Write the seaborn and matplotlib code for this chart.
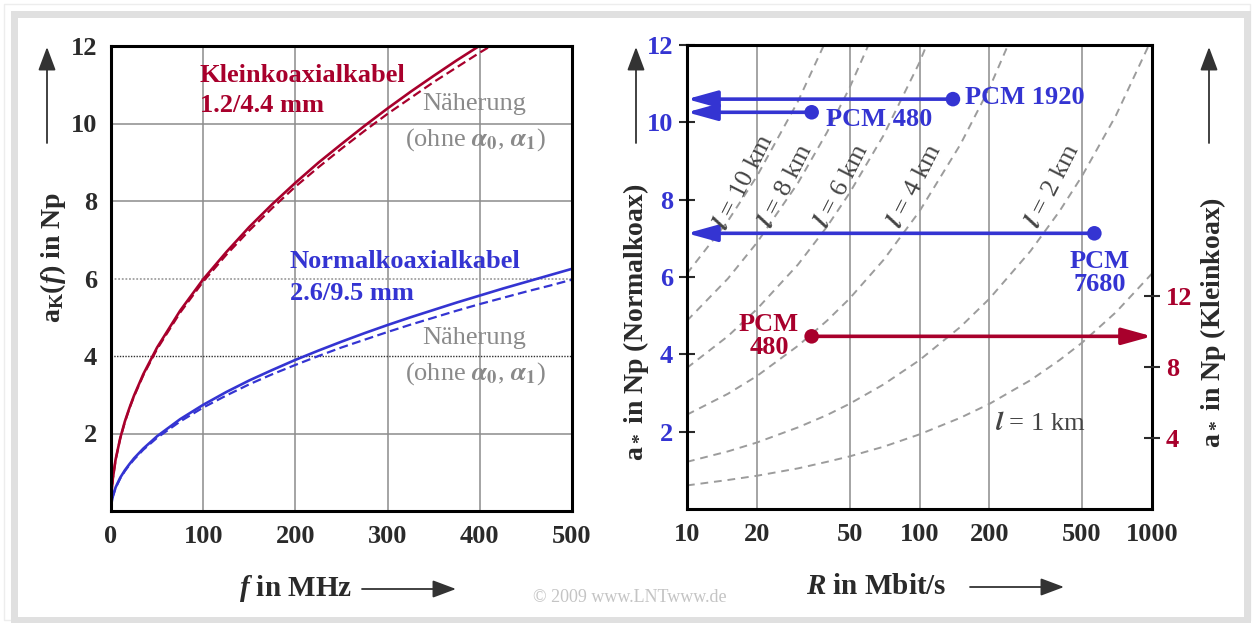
import matplotlib
matplotlib.use("Agg")
import matplotlib.pyplot as plt
from matplotlib.patches import Rectangle
import seaborn as sns

sns.set_theme(style="white")
plt.rcParams["font.family"] = ["Liberation Serif", "DejaVu Serif"]
plt.rcParams["font.weight"] = "bold"
plt.rcParams["mathtext.fontset"] = "custom"
plt.rcParams["mathtext.rm"] = "Liberation Serif:bold"
plt.rcParams["mathtext.it"] = "Liberation Serif:bold:italic"
plt.rcParams["mathtext.bf"] = "Liberation Serif:bold"

# ---------------------------------------------------------------------------
# data
# ---------------------------------------------------------------------------
f_mhz = [0, 0.1, 0.5, 1, 2, 5, 10, 15, 20, 25, 35, 50, 75, 100, 125, 150, 175, 200,
         225, 250, 275, 300, 325, 350, 375, 400, 425, 450, 475, 500]
klein_exact = [0.00, 0.19, 0.42, 0.59, 0.84, 1.33, 1.88, 2.31, 2.66, 2.98, 3.53, 4.22,
               5.17, 5.98, 6.68, 7.33, 7.92, 8.47, 8.99, 9.47, 9.94, 10.39, 10.82, 11.23,
               11.63, 12.01, 12.38, 12.75, 13.10, 13.44]
klein_approx = [0.00, 0.19, 0.42, 0.59, 0.84, 1.32, 1.87, 2.29, 2.65, 2.96, 3.50, 4.18,
                5.12, 5.92, 6.61, 7.24, 7.82, 8.37, 8.87, 9.35, 9.81, 10.25, 10.66, 11.07,
                11.45, 11.83, 12.19, 12.55, 12.89, 13.23]
normal_exact = [0.00, 0.09, 0.19, 0.27, 0.38, 0.61, 0.86, 1.05, 1.21, 1.36, 1.61, 1.93,
                2.37, 2.74, 3.07, 3.37, 3.64, 3.90, 4.14, 4.37, 4.59, 4.80, 5.00, 5.19,
                5.38, 5.56, 5.74, 5.91, 6.08, 6.25]
normal_approx = [0.00, 0.08, 0.19, 0.27, 0.38, 0.60, 0.84, 1.03, 1.19, 1.33, 1.58, 1.89,
                 2.31, 2.67, 2.98, 3.27, 3.53, 3.77, 4.00, 4.22, 4.42, 4.62, 4.81, 4.99,
                 5.17, 5.34, 5.50, 5.66, 5.81, 5.97]

rate = [10, 15, 20, 30, 40, 50, 70, 100, 150, 200, 300, 400, 500, 700, 1000]
len_1km = [0.61, 0.75, 0.86, 1.05, 1.22, 1.36, 1.61, 1.93, 2.36, 2.72, 3.33, 3.85, 4.30,
           5.09, 6.09]
len_2km = [1.22, 1.49, 1.72, 2.11, 2.43, 2.72, 3.22, 3.85, 4.71, 5.44, 6.67, 7.70, 8.61,
           10.18, 12.17]
len_4km = [2.44, 2.98, 3.44, 4.22, 4.87, 5.44, 6.44, 7.70, 9.43, 10.89, 13.34, 15.40,
           17.22, 20.37, 24.35]
len_6km = [3.65, 4.47, 5.17, 6.32, 7.30, 8.17, 9.66, 11.55, 14.14, 16.33, 20.00, 23.10,
           25.82, 30.55, 36.52]
len_8km = [4.87, 5.96, 6.89, 8.43, 9.74, 10.89, 12.88, 15.40, 18.86, 21.78, 26.67, 30.80,
           34.43, 40.73, 48.70]
len_10km = [6.09, 7.45, 8.61, 10.54, 12.17, 13.61, 16.10, 19.25, 23.57, 27.22, 33.34,
            38.50, 43.04, 50.92, 60.87]

pcm_normal_rate = [34.368, 139.264, 564.992]
pcm_normal_att = [10.26, 10.60, 7.13]
pcm_klein_rate = [34.368]
pcm_klein_att = [9.75]

RED = "#a8002c"
BLUE = "#3434d2"
GREY_TXT = "#8a8a8a"
GRID = "#8c8c8c"
DASH = "#9c9c9c"
TICK = "#2a2a2a"

W, H = 1255, 623


def box(l, t, r, b):
    return [l / W, 1 - b / H, (r - l) / W, (b - t) / H]


def fx(x):
    return x / W


def fy(y):
    return 1 - y / H


def style_axes(ax):
    for s in ax.spines.values():
        s.set_linewidth(2.2)
        s.set_color("black")
        s.set_zorder(5)


fig = plt.figure(figsize=(W / 100, H / 100), dpi=100)
fig.patch.set_facecolor("white")

# frame round the whole picture
fig.add_artist(Rectangle((fx(4), fy(620)), fx(1250 - 4), (620 - 4) / H, transform=fig.transFigure,
                         fill=False, edgecolor="#ededed", lw=1.0))
fig.add_artist(Rectangle((fx(13.5), fy(619.5)), fx(1247 - 13.5), (619.5 - 13.5) / H,
                         transform=fig.transFigure, fill=False, edgecolor="#e0e0e0", lw=5))

# ---------------------------------------------------------------------------
# left panel: attenuation vs frequency
# ---------------------------------------------------------------------------
axL = fig.add_axes(box(111, 46, 572, 511))
style_axes(axL)
for xv in [100, 200, 300, 400]:
    axL.axvline(xv, color=GRID, lw=1.1, zorder=1)
for yv in [2, 8, 10]:
    axL.axhline(yv, color=GRID, lw=1.1, zorder=1)
axL.axhline(6, color="#a0a0a0", lw=1.3, ls=(0, (1, 1)), zorder=1)
axL.axhline(4, color="#303030", lw=1.0, ls=(0, (1, 1)), zorder=1)

sns.lineplot(x=f_mhz, y=klein_exact, ax=axL, color=RED, lw=1.9, zorder=3)
sns.lineplot(x=f_mhz, y=klein_approx, ax=axL, color=RED, lw=1.6, ls=(0, (4, 2)), zorder=3)
sns.lineplot(x=f_mhz, y=normal_exact, ax=axL, color=BLUE, lw=1.9, zorder=3)
sns.lineplot(x=f_mhz, y=normal_approx, ax=axL, color=BLUE, lw=1.6, ls=(0, (4, 2)), zorder=3)

axL.set_xlim(0, 500)
axL.set_ylim(0, 12)
axL.set_xticks(range(0, 501, 100))
axL.set_yticks(range(2, 13, 2))
axL.tick_params(direction="inout", length=12, width=1.5, labelsize=19, colors=TICK, pad=4)
axL.set_xlabel("")
axL.set_ylabel("")

# ---------------------------------------------------------------------------
# right panel: attenuation vs bit rate
# ---------------------------------------------------------------------------
axR = fig.add_axes(box(687, 45, 1152, 509))
style_axes(axR)
axR.set_xscale("log")
for xv in [20, 50, 100, 200, 500]:
    axR.axvline(xv, color=GRID, lw=1.1, zorder=1)
for vals in [len_1km, len_2km, len_4km, len_6km, len_8km, len_10km]:
    sns.lineplot(x=rate, y=vals, ax=axR, color=DASH, lw=1.4, ls=(0, (4, 3)), zorder=2)

axR.set_xlim(10, 1000)
axR.set_ylim(0, 12)
axR.set_xticks([10, 20, 50, 100, 200, 500, 1000])
axR.set_xticklabels(["10", "20", "50", "100", "200", "500", "1000"])
axR.minorticks_off()
axR.set_yticks(range(2, 13, 2))
axR.tick_params(direction="inout", length=12, width=1.5, labelsize=19, colors=TICK, pad=4)
axR.tick_params(axis="y", labelcolor=BLUE)
axR.set_xlabel("")
axR.set_ylabel("")

arrow_kw = dict(arrowstyle="-|>,head_length=1.3,head_width=0.36", lw=2.6,
                shrinkA=0, shrinkB=0, mutation_scale=14)
for r, a in zip(pcm_normal_rate, pcm_normal_att):
    axR.annotate("", xy=(10, a), xytext=(r, a),
                 arrowprops=dict(color=BLUE, **arrow_kw), zorder=4)
sns.scatterplot(x=pcm_normal_rate, y=pcm_normal_att, ax=axR, color=BLUE, s=110,
                edgecolor="none", zorder=6)

ax2 = axR.twinx()
ax2.set_ylim(0, 26.2)
ax2.set_yticks([4, 8, 12])
ax2.tick_params(direction="inout", length=12, width=1.5, labelsize=19, colors=TICK,
                labelcolor=RED, pad=4)
for s in ax2.spines.values():
    s.set_visible(False)
for r, a in zip(pcm_klein_rate, pcm_klein_att):
    ax2.annotate("", xy=(1000, a), xytext=(r, a),
                 arrowprops=dict(color=RED, **arrow_kw), zorder=4)
sns.scatterplot(x=pcm_klein_rate, y=pcm_klein_att, ax=ax2, color=RED, s=110,
                edgecolor="none", zorder=6)
ax2.set_ylabel("")

# ---------------------------------------------------------------------------
# texts
# ---------------------------------------------------------------------------
def put(x, y, s, **kw):
    kw.setdefault("fontsize", 19)
    kw.setdefault("va", "center")
    fig.text(fx(x), fy(y), s, **kw)


# left panel annotations
put(200, 75, "Kleinkoaxialkabel", color=RED)
put(200, 106, "1.2/4.4 mm", color=RED)
put(290, 261, "Normalkoaxialkabel", color=BLUE)
put(290, 294, "2.6/9.5 mm", color=BLUE)
for y0 in (104, 338):
    put(422, y0, "Näherung", color=GREY_TXT, fontweight="normal")
    put(405, y0 + 36, r"(ohne $\alpha_0$, $\alpha_1$)", color=GREY_TXT,
        fontweight="normal", math_fontfamily="stix")

# right panel annotations
put(965, 98, "PCM 1920", color=BLUE)
put(826, 120, "PCM 480", color=BLUE)
put(1100, 273, "PCM\n7680", color=BLUE, ha="center", linespacing=0.95)
put(769, 336, "PCM\n480", color=RED, ha="center", linespacing=0.95)
put(995, 423, r"$l$ = 1 km", color="#444444", fontweight="normal", math_fontfamily="stix")
for xc, yc, km in [(744, 182, 10), (786, 186, 8), (842, 186, 6), (915, 186, 4), (1053, 186, 2)]:
    put(xc, yc, rf"$l$ = {km} km", color="#444444", fontweight="normal", ha="center",
        rotation=63, rotation_mode="anchor", fontsize=19, math_fontfamily="stix")

# axis titles with arrows
put(53, 258, r"$\mathrm{a_K}(f)$ in Np", rotation=90, ha="center", fontsize=20, color=TICK)
put(636, 322, r"$\mathrm{a}_*$ in Np (Normalkoax)", rotation=90, ha="center", fontsize=20,
    color=TICK)
put(1213, 322, r"$\mathrm{a}_*$ in Np (Kleinkoax)", rotation=90, ha="center", fontsize=20,
    color=TICK)
put(296, 588, r"$f$ in MHz", ha="center", fontsize=21, color=TICK)
put(876, 586, r"$R$ in Mbit/s", ha="center", fontsize=21, color=TICK)

arr = dict(arrowstyle="-|>,head_length=0.8,head_width=0.3", color="#333333", lw=1.3,
           mutation_scale=18, shrinkA=0, shrinkB=0)
for (x0, y0), (x1, y1) in [((47, 143), (47, 47)), ((636, 143), (636, 47)),
                           ((1209, 143), (1209, 47)), ((362, 589), (456, 589)),
                           ((970, 587), (1064, 587))]:
    axL.annotate("", xy=(x1, H - y1), xytext=(x0, H - y0), xycoords="figure pixels",
                 textcoords="figure pixels", arrowprops=arr, annotation_clip=False)

put(630, 598, "© 2009 www.LNTwww.de", ha="center", fontsize=13, color="#c4c4c4",
    fontweight="normal")

fig.savefig("out.png", dpi=100)
